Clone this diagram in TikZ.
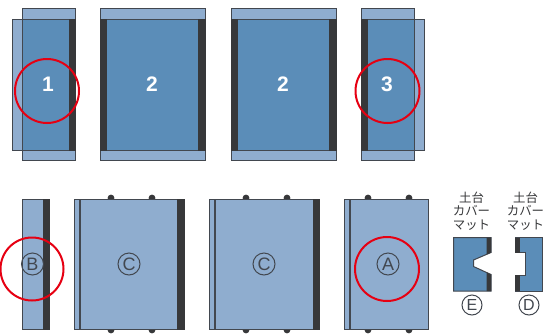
\documentclass[tikz,border=0pt]{standalone}
\usepackage{fontspec}
\setmainfont{Liberation Sans}
\newfontfamily\cjk{Noto Sans CJK JP}
\definecolor{deep}{HTML}{5B8DB8}
\definecolor{pale}{HTML}{8FADCF}
\definecolor{edge}{HTML}{42474F}
\definecolor{bar}{HTML}{37383A}
\definecolor{mark}{HTML}{E60012}
\tikzset{
  deepbox/.style={draw=edge,line width=1pt,fill=deep},
  palebox/.style={draw=edge,line width=1pt,fill=pale},
  barbox/.style={draw=bar,line width=.6pt,fill=bar},
  innerline/.style={draw=edge,line width=1.1pt},
  knob/.style={fill=bar,draw=none},
  ring/.style={draw=mark,line width=2pt},
  numlabel/.style={text=white,font=\bfseries\fontsize{21}{21}\selectfont,inner sep=0pt},
  letter/.style={circle,draw=edge,line width=1pt,minimum size=22pt,inner sep=0pt,text=edge,font=\fontsize{18}{18}\selectfont},
  smallletter/.style={circle,draw=edge,line width=1pt,minimum size=20pt,inner sep=0pt,text=edge,font=\fontsize{16}{16}\selectfont},
  caption/.style={text=bar,align=center,inner sep=0pt,font=\cjk\fontsize{12.4}{13.5}\selectfont}
}
\begin{document}
\begin{tikzpicture}[x=1pt,y=-1pt]
\useasboundingbox (0,0) rectangle (544,333);
% top row, panel 1
\draw[palebox] (12,19) rectangle (69,150);
\draw[palebox] (22.5,8.5) rectangle (75,19);
\draw[palebox] (22.5,150) rectangle (75,160);
\draw[deepbox] (22.5,19) rectangle (69,150);
\draw[barbox] (69,19) rectangle (75,150);
\node[numlabel] (n1) at (48,84) {1};
% panel 2a
\draw[palebox] (100,8.5) rectangle (205,19);
\draw[palebox] (100,150) rectangle (205,160);
\draw[deepbox] (106,19) rectangle (198,150);
\draw[barbox] (100,19) rectangle (106,150);
\draw[barbox] (198,19) rectangle (205,150);
\node[numlabel] (n2a) at (152,84) {2};
% panel 2b
\draw[palebox] (231,8.5) rectangle (336,19);
\draw[palebox] (231,150) rectangle (336,160);
\draw[deepbox] (237,19) rectangle (329,150);
\draw[barbox] (231,19) rectangle (237,150);
\draw[barbox] (329,19) rectangle (336,150);
\node[numlabel] (n2b) at (283,84) {2};
% panel 3
\draw[palebox] (367,19) rectangle (424,150);
\draw[palebox] (361,8.5) rectangle (414,19);
\draw[palebox] (361,150) rectangle (414,160);
\draw[deepbox] (367,19) rectangle (414,150);
\draw[barbox] (361,19) rectangle (367,150);
\node[numlabel] (n3) at (387,84) {3};
% bottom row, B
\draw[palebox] (22.5,199) rectangle (49,329);
\draw[barbox] (43,199) rectangle (49,329);
\node[letter] (lb) at (32.5,264) {B};
% C 1
\foreach \kx in {111,152}{\fill[knob] (\kx,198) circle (3.4); \fill[knob] (\kx,330) circle (3.4);}
\draw[palebox] (74,199) rectangle (184,329);
\draw[innerline] (80,199) -- (80,329);
\draw[barbox] (177.5,199) rectangle (184,329);
\node[letter] (lc1) at (129,264) {C};
% C 2
\foreach \kx in {246,287}{\fill[knob] (\kx,198) circle (3.4); \fill[knob] (\kx,330) circle (3.4);}
\draw[palebox] (209.5,199) rectangle (319,329);
\draw[innerline] (215,199) -- (215,329);
\draw[barbox] (313,199) rectangle (319,329);
\node[letter] (lc2) at (264,264) {C};
% A
\foreach \kx in {368,409}{\fill[knob] (\kx,198) circle (3.4); \fill[knob] (\kx,330) circle (3.4);}
\draw[palebox] (344.5,199) rectangle (428,329);
\draw[innerline] (350,199) -- (350,329);
\node[letter] (la) at (388,264) {A};
% E
\draw[deepbox] (453.5,237.5) -- (491,237.5) -- (491,252.5) -- (473.5,260) -- (473.5,266.5) -- (491,274.5) -- (491,291) -- (453.5,291) -- cycle;
\fill[bar] (486.5,237.5) -- (491,237.5) -- (491,252.5) -- (486.5,254.5) -- cycle;
\fill[bar] (486.5,272.5) -- (491,274.5) -- (491,291) -- (486.5,291) -- cycle;
% D
\draw[deepbox] (515,237.5) -- (542,237.5) -- (542,291) -- (515,291) -- (515,275) -- (525,275) -- (525,252.5) -- (515,252.5) -- cycle;
\fill[bar] (515,237.5) -- (520,237.5) -- (520,252.5) -- (515,252.5) -- cycle;
\fill[bar] (515,275) -- (520,275) -- (520,291) -- (515,291) -- cycle;
% captions
\node[caption] (cape) at (471.5,211) {土台\\カバー\\マット};
\node[caption] (capd) at (525.5,211) {土台\\カバー\\マット};
\node[smallletter] (le) at (472,305) {E};
\node[smallletter] (ld) at (529,305) {D};
% red rings
\draw[ring] (47,91) circle (32);
\draw[ring] (387.5,91) circle (32);
\draw[ring] (32,269) circle (31.5);
\draw[ring] (387,269) circle (32);
\end{tikzpicture}
\end{document}
